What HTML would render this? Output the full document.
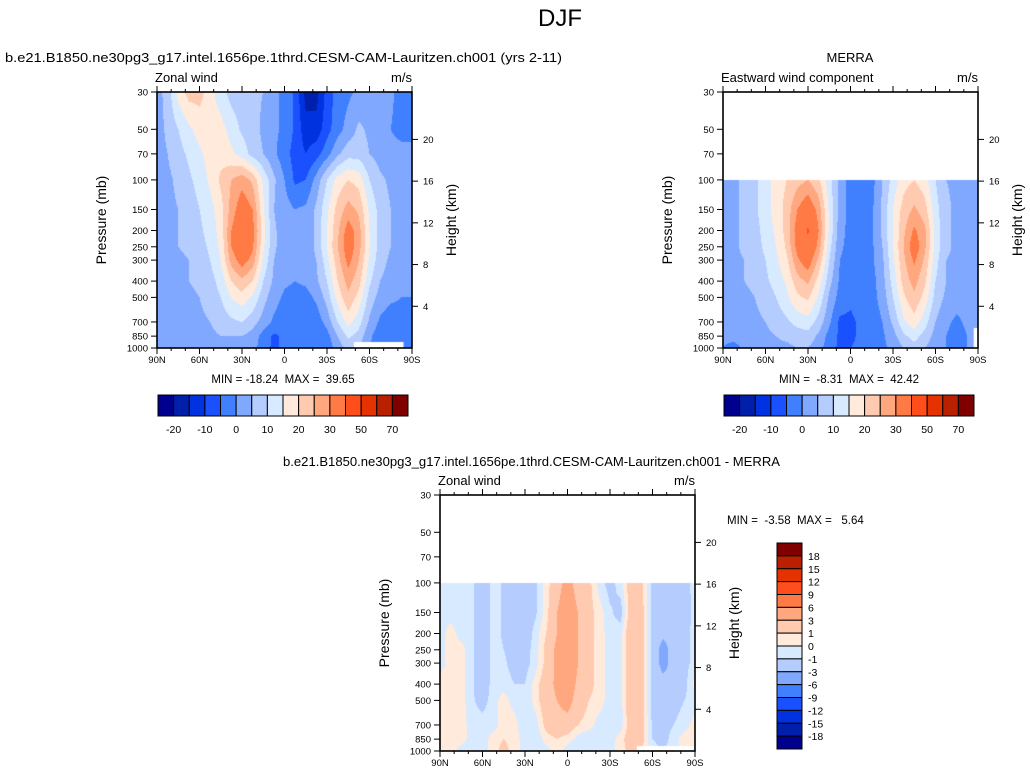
<!DOCTYPE html>
<html><head><meta charset="utf-8">
<style>
body{margin:0;background:#fff;width:1030px;height:778px;overflow:hidden;position:relative;font-family:"Liberation Sans",sans-serif}
canvas{position:absolute}
svg{position:absolute;left:0;top:0}
</style></head>
<body>
<canvas id="c1" style="left:157px;top:92px" width="255" height="256"></canvas>
<canvas id="c2" style="left:723px;top:92px" width="255" height="256"></canvas>
<canvas id="c3" style="left:440px;top:495px" width="255" height="256"></canvas>
<svg id="s" width="1030" height="778"></svg>
<script>
const colors=["#00008f","#0020ac","#0032e0","#1a50ff","#4080ff","#80a8ff","#b4ccff","#d8eaff","#ffeadb","#ffcab0","#ffa880","#ff7a45","#ff4e1c","#e43200","#b82000","#800000"];
const levelsU=[-20,-15,-10,-5,0,5,10,15,20,25,30,40,50,60,70];
const levelsD=[-18,-15,-12,-9,-6,-3,-1,0,1,3,6,9,12,15,18];
const plevs=[30,50,70,100,150,200,250,300,400,500,700,850,1000];
const plevsM=[100,150,200,250,300,400,500,700,850,1000];
const modelU=[
[3,7,17,22,22,17,12,8,7,6,5,2,-2,-6,-17,-17,-8,-3,-1,1,3,3,1,-2,-2],
[3,6,10,14,17,18,17,13,9,7,4,1,-1,-6,-13,-13,-7,-2,2,6,4,2,0,-2,-2],
[3,5,8,11,14,17,18,16,13,8,5,1,-3,-7,-10,-7,-2,4,8,8,5,3,2,2,2],
[3,4,6,9,12,16,21,25,28,24,14,6,0,-6,-5,2,10,17,20,18,10,6,4,3,3],
[3,4,5,7,10,13,18,27,34,30,16,5,2,0,1,6,14,22,27,24,14,8,5,3,3],
[3,4,5,6,9,12,17,30,37,32,17,6,2,1,2,6,15,24,33,27,15,8,5,3,3],
[3,4,5,6,8,11,16,30,36,31,16,6,2,1,2,6,15,25,34,27,15,8,5,3,3],
[3,4,4,5,7,10,15,27,33,28,14,5,2,1,2,5,13,23,32,25,14,7,4,3,3],
[3,3,4,5,6,8,12,20,24,20,10,4,1,0,1,4,10,20,27,22,11,5,3,2,2],
[2,3,3,4,5,7,10,15,18,14,7,2,-1,-2,-2,1,7,17,24,18,8,3,1,0,0],
[2,2,3,3,4,5,7,9,10,7,3,-1,-3,-4,-4,-3,2,10,17,12,4,-1,-3,-2,-4],
[2,2,2,3,3,4,5,5,5,3,-2,-6,-4,-4,-4,-5,-2,5,11,8,1,-3,-4,-4,-5],
[1,1,2,2,2,3,4,3,3,2,-3,-6,-4,-4,-3,-4,-3,2,7,5,0,-3,-4,-4,-4]];
const merraU=[
[3,4,6,9,13,17,20,23,25,21,12,3,-2,-3,-2,5,12,18,20,17,10,5,4,3,3],
[3,4,6,9,13,17,22,30,35,28,14,3,-2,-3,-1,6,15,22,26,22,12,6,4,3,3],
[3,4,6,8,12,16,22,33,41,30,14,2,-2,-3,-1,6,15,24,31,26,13,6,4,3,3],
[3,4,6,8,11,15,21,32,38,28,12,1,-2,-3,-1,5,15,25,34,26,13,6,4,3,3],
[3,4,5,7,10,14,19,29,34,24,10,0,-2,-3,-1,4,14,24,31,24,12,5,4,3,3],
[3,4,5,6,9,12,16,23,26,18,7,-1,-3,-3,-2,3,12,22,27,21,10,5,3,3,3],
[3,3,4,5,7,10,14,19,21,14,4,-2,-4,-3,-2,2,10,19,24,18,8,4,2,2,2],
[2,3,3,4,5,7,9,12,13,8,1,-6,-6,-4,-3,0,6,14,18,12,5,1,-1,1,2],
[1,2,2,3,4,5,6,7,8,4,-2,-6,-6,-4,-3,-1,3,9,12,8,3,0,-2,0,1],
[0,-2,1,2,3,4,4,5,5,2,-3,-6,-5,-4,-3,-1,1,5,8,5,2,0,-1,0,1]];
const diffU=[
[-.5,-.5,-.5,-.8,-2,-.5,-1.2,-2,-2,-1.3,.5,2,4,2,1.5,-.5,-1.5,-.5,2,1.3,-1.5,-2,-2,-1.5,-.5],
[-.5,-.5,-.5,-.8,-2,-.5,-1.2,-2,-2,-1.2,.5,3,4.5,3,1.5,.5,-.8,-1.5,2,1.5,-1.5,-2,-2,-2,-.5],
[-.5,.5,-.5,-.8,-2,-.5,-1.2,-2,-2,-.5,1,3,5,3,1.5,.5,-.5,-.5,2.5,1.5,-1.5,-2.5,-2,-1.5,-.5],
[-.5,.5,.5,-.8,-2,-.5,-1,-1.5,-1.5,-.5,1.5,3.5,5,3,1.5,.5,-.5,-.5,2.5,1.5,-1.5,-4,-2,-1.5,-.5],
[-.5,.5,.5,-.8,-2,-.5,-.8,-1.5,-1.5,-.5,1.5,3.5,5,3,1.5,.5,-.5,-.5,2.5,1.5,-1.5,-4,-2,-1.5,-.5],
[.5,.5,.5,-.8,-2,-.5,-.5,-1,-1,.5,2,3.5,4.5,2.5,1.5,.5,-.5,-.5,2.5,1.5,-1.5,-2,-2,-1.5,.5],
[.5,.5,.5,-.8,-1.5,-.5,.5,-.5,-1,.5,2,3,4,2,1,.5,-.5,-.5,2.5,1.5,-1.5,-2,-1.5,-1,-.5],
[.5,.5,.5,-.5,-.5,-.5,.5,.5,-1,-.5,1.5,2,2,1,.5,-.5,-.5,-.5,2,1.5,-1.2,-1.5,-1,-.5,.5],
[.5,.5,.5,-.5,-.5,.5,1,.5,-.5,-1,.5,1,.5,-.5,-1,-.5,-.5,.5,2,1.5,-1,-1.5,-.5,.5,.5],
[.5,.5,-.5,-.5,-.5,.5,1.5,.5,-.5,-1,-.5,.5,-.5,-1,-1,-.5,-.5,.5,1.5,1,-.5,-1,-.5,.5,.5]];
const latTicks=["90N","60N","30N","0","30S","60S","90S"];
const pTicks=[30,50,70,100,150,200,250,300,400,500,700,850,1000];
const hTicks=[4,8,12,16,20];
const uBarLabels=["-20","-10","0","10","20","30","50","70"];
const dBarLabels=["18","15","12","9","6","3","1","0","-1","-3","-6","-9","-12","-15","-18"];

const W=255,H=256;
const L30=Math.log(30),LR=Math.log(1000)-Math.log(30);
function yP(p){return (Math.log(p)-L30)/LR*H;}
function xLat(lat){return (90-lat)/180*W;}
function draw(id,grid,pl,lv,mask){
  const cv=document.getElementById(id),ctx=cv.getContext('2d');
  const img=ctx.createImageData(W,H);const nc=grid[0].length;
  const ys=pl.map(yP);
  const rgb=colors.map(c=>[parseInt(c.substr(1,2),16),parseInt(c.substr(3,2),16),parseInt(c.substr(5,2),16)]);
  for(let py=0;py<H;py++){
    const y=py+0.5; if(y<ys[0]) continue;
    let r=0; while(r<ys.length-2 && y>ys[r+1]) r++;
    const ty=Math.min(1,Math.max(0,(y-ys[r])/(ys[r+1]-ys[r])));
    for(let px=0;px<W;px++){
      const fx=(px+0.5)/W*(nc-1);let c=Math.min(nc-2,Math.floor(fx));const tx=fx-c;
      const v=(grid[r][c]*(1-tx)+grid[r][c+1]*tx)*(1-ty)+(grid[r+1][c]*(1-tx)+grid[r+1][c+1]*tx)*ty;
      let k=0;while(k<lv.length&&v>=lv[k])k++;
      const o=(py*W+px)*4,col=rgb[k];img.data[o]=col[0];img.data[o+1]=col[1];img.data[o+2]=col[2];img.data[o+3]=255;
    }
  }
  ctx.putImageData(img,0,0);
  if(mask){ctx.fillStyle='#fff';ctx.fillRect(xLat(mask[0]),H-mask[2],xLat(mask[1])-xLat(mask[0]),mask[2]);}
}
draw('c1',modelU,plevs,levelsU,[-49,-84,6]);
draw('c2',merraU,plevsM,levelsU,[-87,-90,20]);
draw('c3',diffU,plevsM,levelsD,[-49,-89,5]);

const NS="http://www.w3.org/2000/svg",svg=document.getElementById('s');
function el(t,a,txt,parent){const e=document.createElementNS(NS,t);for(const k in a)e.setAttribute(k,a[k]);if(txt!==undefined)e.textContent=txt;(parent||svg).appendChild(e);return e;}
function axes(ox,oy,title,unit,name){
  const g=el('g',{transform:`translate(${ox},${oy})`});
  
  
  el('rect',{x:0,y:0,width:W,height:H,fill:'none',stroke:'#000','stroke-width':1.6},undefined,g);
  for(let lat=90;lat>=-90;lat-=10){const x=xLat(lat),maj=lat%30===0,l=maj?6:3;
    el('line',{x1:x,y1:H,x2:x,y2:H+l,stroke:'#000','stroke-width':1},undefined,g);
    el('line',{x1:x,y1:0,x2:x,y2:-l,stroke:'#000','stroke-width':1},undefined,g);}
  latTicks.forEach((t,i)=>{const e=el('text',{x:i*W/6,y:H+15,'font-size':9.5,'text-anchor':'middle'},t,g);});
  pTicks.forEach(p=>{const y=yP(p);el('line',{x1:-6,y1:y,x2:0,y2:y,stroke:'#000'},undefined,g);
    const e=el('text',{x:-9,y:y+3.5,'font-size':9.5,'text-anchor':'end'},String(p),g);});
  hTicks.forEach(h=>{const y=yP(1000*Math.exp(-h/7));el('line',{x1:W,y1:y,x2:W+6,y2:y,stroke:'#000'},undefined,g);
    const e=el('text',{x:W+11,y:y+3.5,'font-size':9.5},String(h),g);});
  let e=el('text',{x:0,y:0,'font-size':14,transform:`translate(-51,${H/2}) rotate(-90)`,'text-anchor':'middle'},'Pressure (mb)',g);
  e=el('text',{x:0,y:0,'font-size':14,transform:`translate(${W+44},${H/2}) rotate(-90)`,'text-anchor':'middle'},'Height (km)',g);
  e=el('text',{x:-2,y:-10,'font-size':13},title,g);
  e=el('text',{x:W,y:-10,'font-size':13,'text-anchor':'end'},unit,g);
}
axes(157,92,'Zonal wind','m/s','model-panel');
axes(723,92,'Eastward wind component','m/s','merra-panel');
axes(440,495,'Zonal wind','m/s','diff-panel');
let t=el('text',{x:560,y:26,'font-size':24,'text-anchor':'middle'},'DJF');
t=el('text',{x:5,y:62,'font-size':13,textLength:557,lengthAdjust:'spacingAndGlyphs'},'b.e21.B1850.ne30pg3_g17.intel.1656pe.1thrd.CESM-CAM-Lauritzen.ch001 (yrs 2-11)');
t=el('text',{x:850,y:62,'font-size':13,'text-anchor':'middle'},'MERRA');
t=el('text',{x:283,y:466,'font-size':13,textLength:497,lengthAdjust:'spacingAndGlyphs'},'b.e21.B1850.ne30pg3_g17.intel.1656pe.1thrd.CESM-CAM-Lauritzen.ch001 - MERRA');
t=el('text',{x:283,y:383,'font-size':11.5,'text-anchor':'middle'},'MIN = -18.24\u00a0 MAX = \u00a039.65');
t=el('text',{x:849,y:383,'font-size':11.5,'text-anchor':'middle'},'MIN = \u00a0-8.31\u00a0 MAX = \u00a042.42');
t=el('text',{x:727,y:524,'font-size':11.5},'MIN = \u00a0-3.58\u00a0 MAX = \u00a0 5.64');
function hbar(x0,name){const bw=250/16;
  colors.forEach((c,i)=>{const r=el('rect',{x:x0+i*bw,y:395,width:bw,height:21,fill:c,stroke:'#000','stroke-width':1});});
  uBarLabels.forEach((s,i)=>{const e=el('text',{x:x0+(1+2*i)*bw,y:433,'font-size':10.5,'text-anchor':'middle'},s);});}
hbar(158,'model-colorbar');hbar(724,'merra-colorbar');
const bh=206/16;
colors.slice().reverse().forEach((c,i)=>{const r=el('rect',{x:777,y:543+i*bh,width:25,height:bh,fill:c,stroke:'#000','stroke-width':1});});
dBarLabels.forEach((s,i)=>{const e=el('text',{x:808,y:543+(i+1)*bh+4,'font-size':10.5},s);});
</script>
</body></html>
